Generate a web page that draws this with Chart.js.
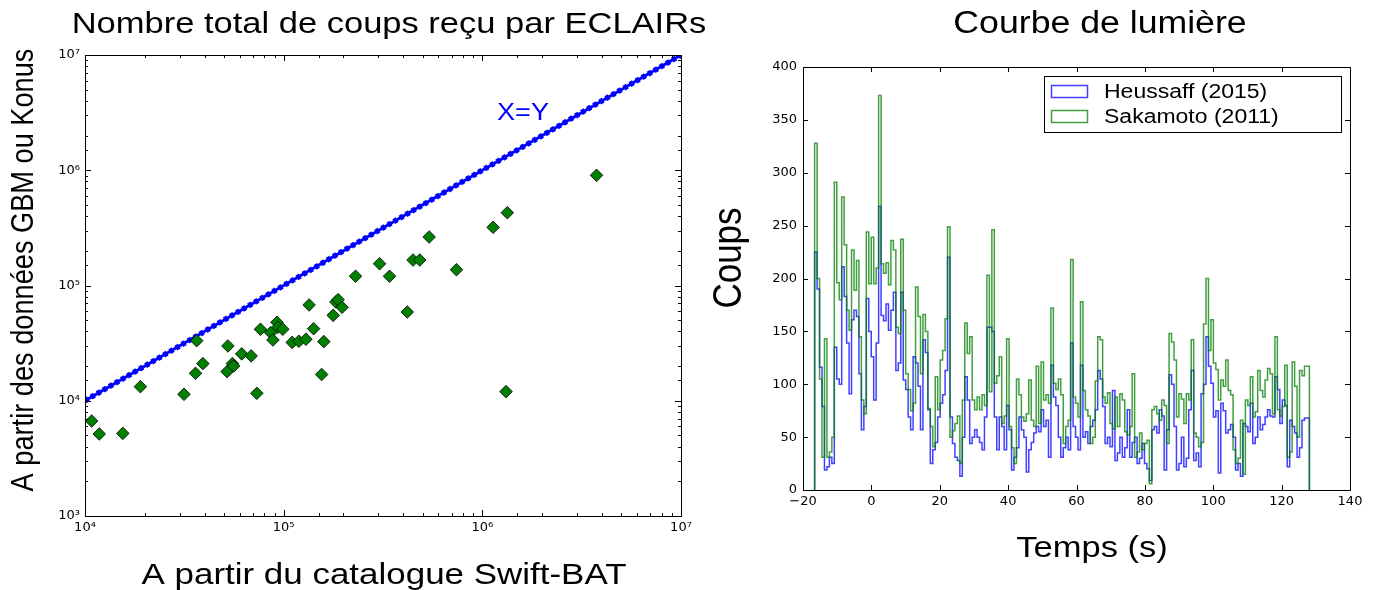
<!DOCTYPE html>
<html>
<head>
<meta charset="utf-8">
<title>ECLAIRs</title>
<script src="https://cdn.jsdelivr.net/npm/chart.js@4.4.0/dist/chart.umd.min.js"></script>
<style>
  html, body { margin: 0; padding: 0; background: #fff; }
  #wrap { position: relative; width: 1378px; height: 590px; }
  #leftBox { position: absolute; left: 0; top: 0; width: 740px; height: 590px; }
  #rightBox { position: absolute; left: 700px; top: 0; width: 678px; height: 590px; }
</style>
</head>
<body>
<div id="wrap">
  <div id="leftBox"><canvas id="scatterChart"></canvas></div>
  <div id="rightBox"><canvas id="lightCurve"></canvas></div>
</div>
<script>
// left panel: total counts, Swift-BAT vs GBM / Konus
const swiftCounts = [10800, 11800, 15500, 19000, 31500, 36500, 36000, 39200, 52400, 51900,
    55200, 56000, 61500, 68600, 73300, 76400, 86000, 88300, 92500, 93500,
    99000, 110400, 119300, 129500, 134300, 141500, 159300, 155300, 177500, 183200,
    187900, 196800, 230000, 304000, 341000, 419000, 448000, 484000, 540000, 741000,
    1133000, 1336000, 1316000, 3758000];
const gbmCounts = [6670, 5150, 5210, 13250, 11380, 33200, 17300, 21000, 29900, 17900,
    21000, 20000, 25500, 24500, 11600, 41700, 39000, 33700, 47900, 43400,
    41700, 32100, 32800, 34200, 67800, 42200, 32600, 16900, 55100, 71900,
    75400, 64700, 120300, 154600, 120300, 58900, 166300, 166300, 263500, 137100,
    319800, 428300, 12000, 904000];
const identityLine = [1e4, 1e7];

// right panel: light curve, 0.72 s bins starting at -16.6 s
const binStart = -16.6;
const binWidth = 0.72;
const heussaffCounts = [
    0, 225, 190, 116, 79, 19, 22, 31, 25, 135,
    105, 100, 211, 183, 139, 91, 161, 170, 164, 110,
    57, 79, 181, 150, 126, 85, 139, 268, 165, 160,
    176, 151, 170, 187, 113, 120, 187, 104, 95, 69,
    57, 126, 120, 98, 57, 142, 130, 76, 25, 38,
    45, 69, 82, 90, 113, 220, 69, 44, 31, 28,
    13, 50, 107, 85, 44, 50, 57, 50, 45, 38,
    69, 154, 154, 150, 69, 38, 69, 60, 38, 80,
    57, 19, 31, 40, 69, 57, 50, 17, 38, 45,
    54, 60, 55, 76, 60, 66, 31, 118, 88, 80,
    50, 31, 40, 50, 38, 139, 60, 50, 38, 118,
    50, 55, 44, 60, 66, 76, 113, 105, 79, 44,
    50, 41, 94, 28, 35, 50, 31, 40, 76, 31,
    45, 50, 25, 30, 44, 25, 20, 9, 57, 60,
    54, 76, 70, 19, 57, 109, 100, 60, 19, 25,
    50, 22, 30, 76, 113, 28, 35, 22, 91, 100,
    145, 117, 101, 69, 75, 16, 82, 75, 54, 57,
    62, 50, 19, 25, 13, 63, 60, 55, 82, 44,
    50, 69, 57, 62, 69, 76, 70, 69, 107, 95,
    63, 85, 80, 22, 66, 60, 54, 31, 40, 66,
    68];
const sakamotoCounts = [
    251, 328, 200, 105, 31, 143, 31, 36, 50, 291,
    196, 180, 277, 232, 170, 151, 227, 189, 217, 145,
    85, 72, 244, 195, 239, 195, 210, 373, 214, 205,
    215, 194, 236, 227, 154, 148, 237, 170, 110, 95,
    75, 82, 192, 164, 110, 166, 150, 77, 60, 41,
    107, 76, 123, 132, 162, 249, 50, 56, 63, 70,
    25, 85, 158, 129, 145, 85, 76, 88, 76, 90,
    80, 203, 93, 246, 101, 108, 126, 63, 70, 143,
    60, 40, 25, 105, 90, 69, 65, 72, 104, 66,
    60, 117, 63, 121, 85, 90, 82, 172, 101, 95,
    105, 90, 44, 60, 66, 218, 88, 82, 69, 178,
    94, 76, 70, 44, 50, 103, 145, 142, 88, 82,
    92, 63, 58, 88, 60, 91, 85, 55, 52, 60,
    110, 31, 36, 54, 38, 44, 47, 6, 76, 79,
    72, 66, 85, 80, 44, 148, 140, 123, 69, 91,
    86, 63, 91, 85, 142, 54, 50, 41, 45, 157,
    200, 132, 161, 120, 114, 85, 104, 98, 123, 94,
    90, 38, 25, 30, 66, 15, 85, 80, 107, 69,
    74, 113, 94, 88, 104, 115, 110, 72, 145, 76,
    70, 79, 118, 31, 36, 121, 98, 50, 113, 108,
    117];
const seriesNames = ['Heussaff (2015)', 'Sakamoto (2011)'];

const BLUE = 'rgba(0, 0, 255, 0.75)';
const GREEN = 'rgba(0, 128, 0, 0.75)';
const textStretch = 1.15;

Chart.defaults.font.family = "'DejaVu Sans', sans-serif";
Chart.defaults.font.size = 13;
Chart.defaults.color = '#000';

// outline of a step histogram, from the bin edges
function stepPoints(values) {
    const pts = [{x: binStart, y: 0}];
    values.forEach((v, i) => pts.push({x: binStart + i * binWidth, y: v}));
    const end = binStart + values.length * binWidth;
    pts.push({x: end, y: values[values.length - 1]});
    pts.push({x: end, y: 0});
    return pts;
}

const SUP = {'0': '⁰', '1': '¹', '2': '²', '3': '³', '4': '⁴', '5': '⁵', '6': '⁶', '7': '⁷', '8': '⁸', '9': '⁹'};
function isDecade(v) {
    const l = Math.log10(v);
    return Math.abs(l - Math.round(l)) < 1e-6;
}
function powerLabel(v) {
    if (!isDecade(v)) return '';
    return '10' + String(Math.round(Math.log10(v))).split('').map(c => SUP[c]).join('');
}

// matplotlib-like frame with inward ticks on the four sides
const frameTicks = {
    id: 'frameTicks',
    afterDatasetsDraw(chart, args, opts) {
        const ctx = chart.ctx;
        const a = chart.chartArea;
        const xs = chart.scales.x, ys = chart.scales.y;
        ctx.save();
        ctx.strokeStyle = '#000';
        ctx.lineWidth = 1;
        ctx.beginPath();
        xs.ticks.forEach(t => {
            const len = (!opts.log || isDecade(t.value)) ? opts.major : opts.minor;
            const px = Math.round(xs.getPixelForValue(t.value)) + 0.5;
            ctx.moveTo(px, a.bottom); ctx.lineTo(px, a.bottom - len);
            ctx.moveTo(px, a.top); ctx.lineTo(px, a.top + len);
        });
        ys.ticks.forEach(t => {
            const len = (!opts.log || isDecade(t.value)) ? opts.major : opts.minor;
            const py = Math.round(ys.getPixelForValue(t.value)) + 0.5;
            ctx.moveTo(a.left, py); ctx.lineTo(a.left + len, py);
            ctx.moveTo(a.right, py); ctx.lineTo(a.right - len, py);
        });
        ctx.stroke();
        ctx.strokeRect(Math.round(a.left) + 0.5, Math.round(a.top) + 0.5,
            Math.round(a.right - a.left), Math.round(a.bottom - a.top));
        ctx.restore();
    }
};

// texts are slightly widened, like the reference figure
function drawText(ctx, item) {
    ctx.save();
    ctx.font = item.size + "px 'Liberation Sans', Arial, sans-serif";
    ctx.fillStyle = item.color || '#000';
    ctx.textAlign = item.align || 'center';
    ctx.textBaseline = 'alphabetic';
    ctx.translate(item.x, item.y);
    ctx.scale(textStretch, 1);
    if (item.rotate) ctx.rotate(-Math.PI / 2);
    ctx.fillText(item.text, 0, 0);
    ctx.restore();
}

// titles, axis labels and annotations
const textLayer = {
    id: 'textLayer',
    afterDraw(chart, args, opts) {
        (opts.items || []).forEach(it => drawText(chart.ctx, it));
    }
};

// framed legend in the upper right corner
const boxLegend = {
    id: 'boxLegend',
    afterDraw(chart, args, opts) {
        if (!opts.box) return;
        const ctx = chart.ctx;
        const b = opts.box;
        ctx.save();
        ctx.fillStyle = '#fff';
        ctx.fillRect(b.x, b.y, b.w, b.h);
        ctx.strokeStyle = '#000';
        ctx.lineWidth = 1;
        ctx.strokeRect(b.x + 0.5, b.y + 0.5, b.w, b.h);
        seriesNames.forEach((name, i) => {
            const rowY = b.y + 15 + i * 25;
            ctx.strokeStyle = [BLUE, GREEN][i];
            ctx.lineWidth = 1.5;
            ctx.strokeRect(b.x + 7.5, rowY - 5.5, 36, 12);
            drawText(ctx, {text: name, x: b.x + 60, y: rowY + 7, size: 20, align: 'left'});
        });
        ctx.restore();
    }
};

const noGrid = {display: false, drawTicks: false};

new Chart(document.getElementById('scatterChart'), {
    type: 'scatter',
    data: {
        datasets: [
            {
                data: swiftCounts.map((x, i) => ({x: x, y: gbmCounts[i]})),
                pointStyle: 'rectRot',
                pointRadius: 6.3,
                backgroundColor: '#007f00',
                borderColor: '#000',
                borderWidth: 0.8,
                order: 0
            },
            {
                data: identityLine.map(v => ({x: v, y: v})),
                showLine: true,
                borderColor: '#0000ff',
                borderWidth: 5.5,
                borderDash: [4, 3],
                pointRadius: 0,
                order: 1
            },
            {
                data: identityLine.map(v => ({x: v, y: v})),
                showLine: true,
                borderColor: '#0000ff',
                borderWidth: 3,
                pointRadius: 0,
                order: 2
            }
        ]
    },
    options: {
        responsive: true,
        maintainAspectRatio: false,
        animation: false,
        layout: {padding: {left: 0, right: 59, top: 55, bottom: 0}},
        plugins: {
            legend: {display: false},
            tooltip: {enabled: false},
            frameTicks: {log: true, major: 6, minor: 3},
            textLayer: {
                items: [
                    {text: 'Nombre total de coups reçu par ECLAIRs', x: 389, y: 33, size: 30},
                    {text: 'A partir du catalogue Swift-BAT', x: 384, y: 584, size: 30.4},
                    {text: 'A partir des données GBM ou Konus', x: 33, y: 270, size: 27.2, rotate: true},
                    {text: 'X=Y', x: 523, y: 120, size: 23.5, color: '#0000ff'}
                ]
            }
        },
        scales: {
            x: {
                type: 'logarithmic',
                min: 1e4,
                max: 1e7,
                grid: noGrid,
                border: {display: false},
                ticks: {autoSkip: false, maxRotation: 0, padding: 4, callback: v => powerLabel(v)},
                afterFit: s => { s.height = 74; }
            },
            y: {
                type: 'logarithmic',
                min: 1e3,
                max: 1e7,
                grid: noGrid,
                border: {display: false},
                ticks: {autoSkip: false, padding: 5, callback: v => powerLabel(v)},
                afterFit: s => { s.width = 85; }
            }
        }
    },
    plugins: [frameTicks, textLayer]
});

new Chart(document.getElementById('lightCurve'), {
    type: 'line',
    data: {
        datasets: [
            {
                label: seriesNames[0],
                data: stepPoints(heussaffCounts),
                borderColor: BLUE,
                borderWidth: 1.5,
                stepped: 'after',
                pointRadius: 0,
                fill: false,
                order: 1
            },
            {
                label: seriesNames[1],
                data: stepPoints(sakamotoCounts),
                borderColor: GREEN,
                borderWidth: 1.5,
                stepped: 'after',
                pointRadius: 0,
                fill: false,
                order: 0
            }
        ]
    },
    options: {
        responsive: true,
        maintainAspectRatio: false,
        animation: false,
        layout: {padding: {left: 0, right: 28, top: 67, bottom: 0}},
        plugins: {
            legend: {display: false},
            tooltip: {enabled: false},
            frameTicks: {log: false, major: 5, minor: 5},
            boxLegend: {box: {x: 344, y: 76, w: 297, h: 56}},
            textLayer: {
                items: [
                    {text: 'Courbe de lumière', x: 400, y: 33, size: 31},
                    {text: 'Temps (s)', x: 392, y: 557, size: 30},
                    {text: 'Coups', x: 41, y: 258, size: 35, rotate: true}
                ]
            }
        },
        scales: {
            x: {
                type: 'linear',
                min: -20,
                max: 140,
                grid: noGrid,
                border: {display: false},
                ticks: {stepSize: 20, maxRotation: 0, padding: 4,
                    callback: v => (v < 0 ? '\u2212' + Math.abs(v) : String(v))},
                afterFit: s => { s.height = 100; }
            },
            y: {
                min: 0,
                max: 400,
                grid: noGrid,
                border: {display: false},
                ticks: {stepSize: 50, padding: 6},
                afterFit: s => { s.width = 103; }
            }
        }
    },
    plugins: [frameTicks, textLayer, boxLegend]
});
</script>
</body>
</html>
